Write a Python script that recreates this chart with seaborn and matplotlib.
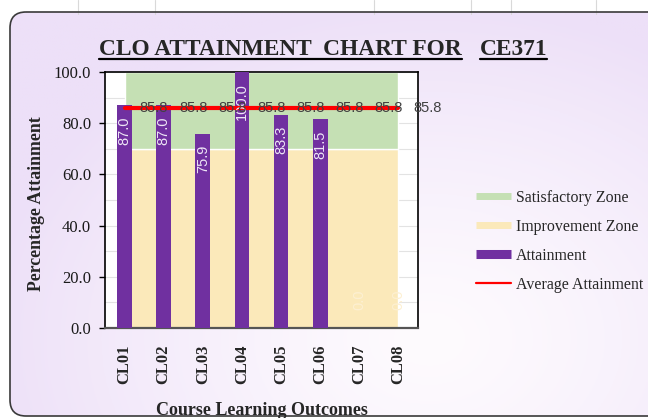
import numpy as np
import seaborn as sns
import matplotlib.pyplot as plt
from matplotlib.patches import FancyBboxPatch
from matplotlib.lines import Line2D

# chart data
clos = ['CL01', 'CL02', 'CL03', 'CL04', 'CL05', 'CL06', 'CL07', 'CL08']
attainment = [87.0, 87.0, 75.9, 100.0, 83.3, 81.5, 0.0, 0.0]
average_attainment = [85.8, 85.8, 85.8, 85.8, 85.8, 85.8, 85.8, 85.8]
improvement_zone = [70, 70, 70, 70, 70, 70, 70, 70]
satisfactory_zone = [30, 30, 30, 30, 30, 30, 30, 30]
y_ticks = [0, 20, 40, 60, 80, 100]
legend_labels = ['Satisfactory Zone', 'Improvement Zone', 'Attainment', 'Average Attainment']

purple = '#7030A0'
green = '#C5E0B4'
yellow = '#FBE9BA'
red = '#FF0000'

sns.set_theme(style='white')
plt.rcParams['font.family'] = ['Liberation Serif', 'DejaVu Serif']

W, H = 648, 418
fig = plt.figure(figsize=(W / 100, H / 100), dpi=100, facecolor='white')

# background: spreadsheet strip on top, rounded lavender chart box
bg = fig.add_axes([0, 0, 1, 1], zorder=-5)
bg.axis('off')
for gx in [78, 155, 374, 471, 511, 596]:
    bg.plot([gx, gx], [0, 14], color='#D9D9D9', lw=0.8)
box = FancyBboxPatch((10, 12), 760, 404, boxstyle='round,pad=0,rounding_size=16',
                     facecolor='none', edgecolor='#3a3a3a', lw=1.2, zorder=2)
gxx, gyy = np.meshgrid(np.linspace(0, W, 220), np.linspace(0, H, 140))
r = np.sqrt(((gxx - 430) / 450) ** 2 + ((gyy - 340) / 340) ** 2)
t = np.clip(r, 0, 1)[..., None] ** 1.3
inner = np.array([254, 251, 254]) / 255
outer = np.array([237, 224, 248]) / 255
im = bg.imshow(inner * (1 - t) + outer * t, extent=[0, W, H, 0], aspect='auto', zorder=1)
bg.add_patch(box)
im.set_clip_path(box)
bg.set_autoscale_on(False)
bg.set_xlim(0, W)
bg.set_ylim(H, 0)

# plot area
ax = fig.add_axes([105 / W, 1 - 328 / H, 313 / W, 256 / H])
ax.set_facecolor('white')
ax.set_axisbelow(True)
ax.stackplot(clos, improvement_zone, satisfactory_zone, colors=[yellow, green], zorder=1)
sns.barplot(x=clos, y=attainment, color=purple, saturation=1, width=0.38,
            linewidth=0, ax=ax, zorder=3)
sns.lineplot(x=clos, y=average_attainment, color=red, lw=3, ax=ax, zorder=4)

for i, v in enumerate(attainment):
    if v > 0:
        ax.annotate(f'{v:.1f}', (clos[i], v), xytext=(0, -8), textcoords='offset points',
                    rotation=90, ha='center', va='top', color='#EEE6F6', fontsize=10.5,
                    family='Liberation Sans', zorder=5)
    else:
        ax.annotate(f'{v:.1f}', (clos[i], v), xytext=(0, 13), textcoords='offset points',
                    rotation=90, ha='center', va='bottom', color='#FDF0D2', fontsize=10.5,
                    family='Liberation Sans', zorder=5)

for i, v in enumerate(average_attainment):
    ax.annotate(f'{v:.1f}', (clos[i], v), xytext=(11, 0), textcoords='offset points',
                ha='left', va='center', color='#404040', fontsize=10.5,
                family='Liberation Sans', zorder=6)

ax.set_xlim(-0.5, 7.5)
ax.set_ylim(0, 100)
ax.set_yticks(y_ticks)
ax.set_yticklabels([f'{v:.1f}' for v in y_ticks], fontsize=12, color='#1a1a1a')
ax.set_yticks(range(10, 100, 20), minor=True)
ax.yaxis.grid(True, which='both', color='#E3E3E3', lw=0.8)
ax.tick_params(axis='y', which='major', direction='out', length=4, width=1,
               color='black', pad=6, left=True)
ax.tick_params(axis='y', which='minor', length=0)
ax.tick_params(axis='x', length=0, pad=12, labelrotation=90, labelsize=12)
for lab in ax.get_xticklabels():
    lab.set_fontweight('bold')
for side in ['left', 'top', 'right']:
    ax.spines[side].set_color('black')
    ax.spines[side].set_linewidth(1.2)
ax.spines['bottom'].set_color('#555555')
ax.spines['bottom'].set_linewidth(1.6)
ax.set_xlabel('')
ax.set_ylabel('')

fig.text(37 / W, 1 - 204 / H, 'Percentage Attainment', rotation=90, ha='center',
         va='center', fontsize=12.8, fontweight='bold')
fig.text(261.5 / W, 1 - 402 / H, 'Course Learning Outcomes', ha='center', va='top',
         fontsize=13, fontweight='bold')

# title with underlines
t1 = fig.text(99 / W, 1 - 55 / H, 'CLO ATTAINMENT  CHART FOR', ha='left', va='baseline',
              fontsize=16.8, fontweight='bold')
fig.canvas.draw()
end1 = t1.get_window_extent().x1
t2 = fig.text((end1 + 18) / W, 1 - 55 / H, 'CE371', ha='left', va='baseline',
              fontsize=16.8, fontweight='bold')
fig.canvas.draw()
for txt in [t1, t2]:
    bb = txt.get_window_extent()
    fig.add_artist(Line2D([bb.x0 / W, bb.x1 / W], [1 - 58.5 / H, 1 - 58.5 / H],
                          transform=fig.transFigure, color='black', lw=1.6))

handles = [
    Line2D([], [], color=green, lw=5, solid_capstyle='butt'),
    Line2D([], [], color=yellow, lw=5, solid_capstyle='butt'),
    Line2D([], [], color=purple, lw=6.5, solid_capstyle='butt'),
    Line2D([], [], color=red, lw=1.6),
]
fig.legend(handles, legend_labels, loc='upper left', bbox_to_anchor=(476 / W, 1 - 190 / H),
           frameon=False, fontsize=11.4, handlelength=2.2, handletextpad=0.3,
           labelspacing=0.82, borderpad=0, borderaxespad=0)

fig.savefig('out.png', dpi=100)
